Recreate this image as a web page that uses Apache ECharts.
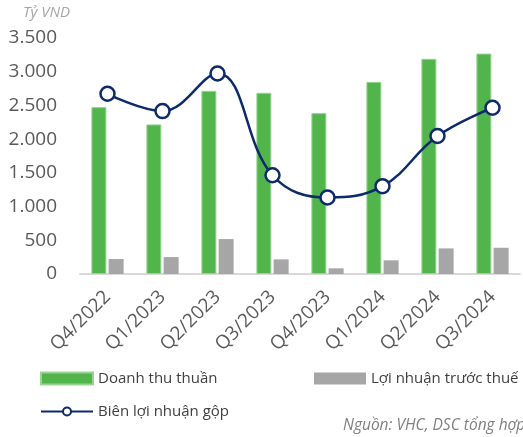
<!DOCTYPE html>
<html>
<head>
<meta charset="utf-8">
<script src="https://cdn.jsdelivr.net/npm/echarts@6/dist/echarts.min.js"></script>
<style>
  html, body { margin: 0; padding: 0; background: #fff; }
  #chart { width: 523px; height: 437px; }
</style>
</head>
<body>
<div id="chart"></div>
<script>
// du lieu doc tu hinh
var quarters = ['Q4/2022', 'Q1/2023', 'Q2/2023', 'Q3/2023', 'Q4/2023', 'Q1/2024', 'Q2/2024', 'Q3/2024'];
var doanhThu = [2475, 2219, 2717, 2688, 2386, 2850, 3191, 3269];
var loiNhuan = [222, 251, 518, 217, 84, 203, 380, 389];
var bienLoiNhuan = [2673, 2416, 2973, 1464, 1134, 1302, 2046, 2466];
var yTicks = [0, 500, 1000, 1500, 2000, 2500, 3000, 3500];

var font = '"Open Sans", "Noto Sans", sans-serif';
var chart = echarts.init(document.getElementById('chart'));

// dinh dang so kieu VN: 3.500
function fmt(v) {
  return String(v).replace(/\B(?=(\d{3})+(?!\d))/g, '.');
}

var legendText = { fontSize: 15, color: '#404040', fontFamily: font };

var option = {
  animation: false,
  textStyle: { fontFamily: font },
  grid: { left: 80, right: 3, top: 38, bottom: 163 },
  graphic: [
    {
      type: 'text', left: 23, top: 5,
      style: { text: 'Tỷ VND', font: 'italic 15px ' + font, fill: '#a6a6a6' }
    },
    {
      type: 'text', left: 343, top: 418,
      style: { text: 'Nguồn: VHC, DSC tổng hợp', font: 'italic 15.5px ' + font, fill: '#7f7f7f' }
    }
  ],
  legend: [
    {
      data: ['Doanh thu thuần'], left: 40, top: 371, padding: 0,
      icon: 'rect', itemWidth: 52, itemHeight: 12,
      textStyle: legendText
    },
    {
      data: ['Lợi nhuận trước thuế'], left: 314, top: 371, padding: 0,
      icon: 'rect', itemWidth: 52, itemHeight: 12,
      textStyle: legendText
    },
    {
      data: ['Biên lợi nhuận gộp'], left: 40, top: 404, padding: 0,
      itemWidth: 52, itemHeight: 10,
      textStyle: legendText
    }
  ],
  xAxis: {
    type: 'category',
    data: quarters,
    axisLine: { lineStyle: { color: '#d9d9d9', width: 2 } },
    axisTick: { show: false },
    axisLabel: { rotate: 45, margin: 20, fontSize: 19, color: '#595959', fontFamily: font }
  },
  yAxis: {
    type: 'value',
    min: yTicks[0],
    max: yTicks[yTicks.length - 1],
    interval: 500,
    splitLine: { show: false },
    axisLine: { show: false },
    axisTick: { show: false },
    axisLabel: { fontSize: 19, color: '#595959', margin: 23, fontFamily: font, formatter: fmt }
  },
  series: [
    {
      name: 'Doanh thu thuần',
      type: 'bar',
      data: doanhThu,
      barWidth: 15,
      barGap: '15%',
      itemStyle: { color: '#52b54b', borderColor: '#9ad495', borderWidth: 1 }
    },
    {
      name: 'Lợi nhuận trước thuế',
      type: 'bar',
      data: loiNhuan,
      barWidth: 15,
      itemStyle: { color: '#a6a6a6' }
    },
    {
      name: 'Biên lợi nhuận gộp',
      type: 'line',
      data: bienLoiNhuan,
      smooth: 0.4,
      symbol: 'circle',
      symbolSize: 14,
      lineStyle: { color: '#0d2a6b', width: 2.5 },
      itemStyle: { color: '#ffffff', borderColor: '#0d2a6b', borderWidth: 2.5 }
    }
  ]
};

chart.setOption(option);
</script>
</body>
</html>
